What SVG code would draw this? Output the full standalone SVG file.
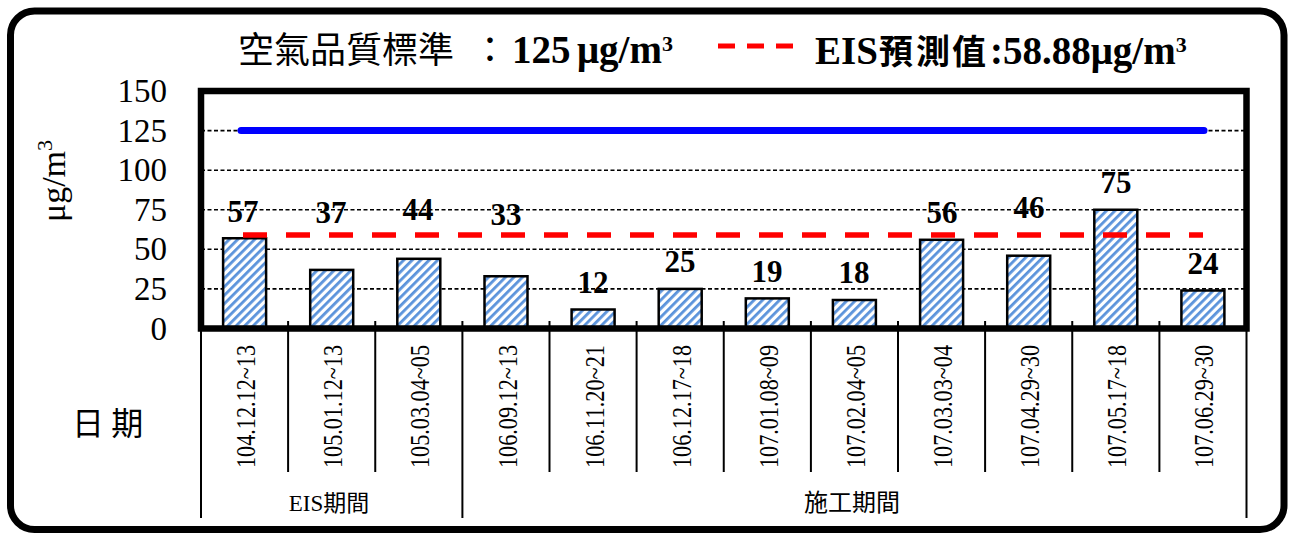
<svg xmlns="http://www.w3.org/2000/svg" width="1290" height="535" viewBox="0 0 1290 535">
<style>
.ser{font-family:"Liberation Serif","Times New Roman",serif;}
.cjk{font-family:"Noto Sans CJK TC","Noto Sans CJK SC",sans-serif;}
.grid{stroke:#000;stroke-width:1.6;stroke-dasharray:4 2.5;fill:none;}
.bar{fill:url(#hatch);stroke:#000;stroke-width:2.5;}
.val{font-family:"Liberation Serif","Times New Roman",serif;font-weight:bold;font-size:31px;text-anchor:middle;fill:#000;}
.ytick{font-family:"Liberation Serif","Times New Roman",serif;font-size:33px;text-anchor:end;fill:#000;}
.cat{font-family:"Liberation Serif","Times New Roman",serif;font-size:27px;text-anchor:middle;fill:#000;}
.sep{stroke:#000;stroke-width:2;fill:none;}
</style>
<defs>
<pattern id="hatch" patternUnits="userSpaceOnUse" width="6" height="6" patternTransform="rotate(45)">
<rect x="0" y="0" width="6" height="6" fill="#ffffff"/>
<rect x="0" y="0" width="2.8" height="6" fill="#5b93db"/>
</pattern>
</defs>
<rect x="0" y="0" width="1290" height="535" fill="#ffffff"/>
<rect id="frame" x="10.5" y="11" width="1273.5" height="518.5" rx="24" ry="24" fill="#ffffff" stroke="#000" stroke-width="7"/>

<g id="title">
<text y="63" fill="#000"><tspan class="cjk" x="238" font-size="36">空氣品質標準</tspan><tspan class="cjk" x="472" font-size="36">：</tspan><tspan class="ser" x="512" font-size="39" font-weight="bold">125</tspan><tspan class="ser" x="577" font-size="39" font-weight="bold">μg/m</tspan><tspan class="ser" dy="-12" font-size="22" font-weight="bold">3</tspan></text>
</g>
<g id="legend">
<line x1="718" y1="46" x2="793" y2="46" stroke="#ff0000" stroke-width="5" stroke-dasharray="17 12"/>
<text y="64" fill="#000"><tspan class="ser" x="815" font-size="39" font-weight="bold">EIS</tspan><tspan class="cjk" x="879" font-size="34" font-weight="bold">預</tspan><tspan class="cjk" x="916" font-size="34" font-weight="bold">測</tspan><tspan class="cjk" x="952" font-size="34" font-weight="bold">值</tspan><tspan class="ser" x="990" font-size="39" font-weight="bold">:58.88μg/m</tspan><tspan class="ser" dy="-12" font-size="22" font-weight="bold">3</tspan></text>
</g>

<g id="yaxis">
<text class="ytick" x="167" y="102">150</text>
<text class="ytick" x="167" y="142">125</text>
<text class="ytick" x="167" y="181">100</text>
<text class="ytick" x="167" y="221">75</text>
<text class="ytick" x="167" y="260">50</text>
<text class="ytick" x="167" y="300">25</text>
<text class="ytick" x="167" y="340">0</text>
<text class="ser" font-size="34" text-anchor="middle" transform="translate(65,181) rotate(-90)">μg/m<tspan dy="-13" font-size="22">3</tspan></text>
</g>

<g id="gridlines">
<line class="grid" x1="201" y1="130.6" x2="1246.5" y2="130.6"/>
<line class="grid" x1="201" y1="170.2" x2="1246.5" y2="170.2"/>
<line class="grid" x1="201" y1="209.75" x2="1246.5" y2="209.75"/>
<line class="grid" x1="201" y1="249.3" x2="1246.5" y2="249.3"/>
<line class="grid" x1="201" y1="288.9" x2="1246.5" y2="288.9"/>
</g>

<g id="bars">
<rect class="bar" x="223.1" y="238.25" width="43" height="90.25"/>
<rect class="bar" x="310.2" y="269.9" width="43" height="58.6"/>
<rect class="bar" x="397.3" y="258.8" width="43" height="69.7"/>
<rect class="bar" x="484.5" y="276.25" width="43" height="52.25"/>
<rect class="bar" x="571.6" y="309.5" width="43" height="19"/>
<rect class="bar" x="658.7" y="288.9" width="43" height="39.6"/>
<rect class="bar" x="745.8" y="298.4" width="43" height="30.1"/>
<rect class="bar" x="832.9" y="300" width="43" height="28.5"/>
<rect class="bar" x="920.1" y="239.8" width="43" height="88.7"/>
<rect class="bar" x="1007.2" y="255.7" width="43" height="72.8"/>
<rect class="bar" x="1094.3" y="209.75" width="43" height="118.75"/>
<rect class="bar" x="1181.4" y="290.5" width="43" height="38"/>
</g>

<g id="connectors">
<line id="standard" x1="241" y1="130.6" x2="1204" y2="130.6" stroke="#0000ff" stroke-width="7" stroke-linecap="round"/>
<line id="eis" x1="243" y1="235" x2="1203" y2="235" stroke="#ff0000" stroke-width="5.5" stroke-dasharray="24 19"/>
</g>

<g id="plotframe">
<rect x="201" y="91" width="1045.5" height="237.5" fill="none" stroke="#000" stroke-width="6.5"/>
<g class="sep">
<line x1="288.1" y1="321" x2="288.1" y2="328"/>
<line x1="375.25" y1="321" x2="375.25" y2="328"/>
<line x1="462.4" y1="321" x2="462.4" y2="328"/>
<line x1="549.5" y1="321" x2="549.5" y2="328"/>
<line x1="636.6" y1="321" x2="636.6" y2="328"/>
<line x1="723.75" y1="321" x2="723.75" y2="328"/>
<line x1="810.9" y1="321" x2="810.9" y2="328"/>
<line x1="898" y1="321" x2="898" y2="328"/>
<line x1="985.1" y1="321" x2="985.1" y2="328"/>
<line x1="1072.25" y1="321" x2="1072.25" y2="328"/>
<line x1="1159.4" y1="321" x2="1159.4" y2="328"/>
</g>
</g>

<g id="values">
<text class="val" x="243" y="222">57</text>
<text class="val" x="331" y="223">37</text>
<text class="val" x="418" y="220">44</text>
<text class="val" x="506" y="225">33</text>
<text class="val" x="593" y="293">12</text>
<text class="val" x="680" y="272">25</text>
<text class="val" x="767" y="282">19</text>
<text class="val" x="854" y="283">18</text>
<text class="val" x="942" y="223">56</text>
<text class="val" x="1029" y="218">46</text>
<text class="val" x="1116" y="193">75</text>
<text class="val" x="1203" y="274">24</text>
</g>

<g id="xaxis">
<g class="sep">
<line x1="201" y1="331" x2="201" y2="518"/>
<line x1="288.1" y1="331" x2="288.1" y2="472"/>
<line x1="375.25" y1="331" x2="375.25" y2="472"/>
<line x1="462.4" y1="331" x2="462.4" y2="518"/>
<line x1="549.5" y1="331" x2="549.5" y2="472"/>
<line x1="636.6" y1="331" x2="636.6" y2="472"/>
<line x1="723.75" y1="331" x2="723.75" y2="472"/>
<line x1="810.9" y1="331" x2="810.9" y2="472"/>
<line x1="898" y1="331" x2="898" y2="472"/>
<line x1="985.1" y1="331" x2="985.1" y2="472"/>
<line x1="1072.25" y1="331" x2="1072.25" y2="472"/>
<line x1="1159.4" y1="331" x2="1159.4" y2="472"/>
<line x1="1246.5" y1="331" x2="1246.5" y2="518"/>
</g>
<text class="cat" textLength="123" lengthAdjust="spacingAndGlyphs" transform="translate(255.1,406.5) rotate(-90)">104.12.12~13</text>
<text class="cat" textLength="123" lengthAdjust="spacingAndGlyphs" transform="translate(342.2,406.5) rotate(-90)">105.01.12~13</text>
<text class="cat" textLength="123" lengthAdjust="spacingAndGlyphs" transform="translate(429.3,406.5) rotate(-90)">105.03.04~05</text>
<text class="cat" textLength="123" lengthAdjust="spacingAndGlyphs" transform="translate(516.5,406.5) rotate(-90)">106.09.12~13</text>
<text class="cat" textLength="123" lengthAdjust="spacingAndGlyphs" transform="translate(603.6,406.5) rotate(-90)">106.11.20~21</text>
<text class="cat" textLength="123" lengthAdjust="spacingAndGlyphs" transform="translate(690.7,406.5) rotate(-90)">106.12.17~18</text>
<text class="cat" textLength="123" lengthAdjust="spacingAndGlyphs" transform="translate(777.8,406.5) rotate(-90)">107.01.08~09</text>
<text class="cat" textLength="123" lengthAdjust="spacingAndGlyphs" transform="translate(864.9,406.5) rotate(-90)">107.02.04~05</text>
<text class="cat" textLength="123" lengthAdjust="spacingAndGlyphs" transform="translate(952.1,406.5) rotate(-90)">107.03.03~04</text>
<text class="cat" textLength="123" lengthAdjust="spacingAndGlyphs" transform="translate(1039.2,406.5) rotate(-90)">107.04.29~30</text>
<text class="cat" textLength="123" lengthAdjust="spacingAndGlyphs" transform="translate(1126.3,406.5) rotate(-90)">107.05.17~18</text>
<text class="cat" textLength="123" lengthAdjust="spacingAndGlyphs" transform="translate(1213.4,406.5) rotate(-90)">107.06.29~30</text>
<text x="329" y="511" font-size="23" text-anchor="middle" fill="#000"><tspan class="ser">EIS</tspan><tspan class="cjk">期間</tspan></text>
<text class="cjk" x="852" y="511" font-size="24" text-anchor="middle" fill="#000">施工期間</text>
<text class="cjk" x="72" y="435" font-size="32" fill="#000">日 期</text>
</g>
</svg>
